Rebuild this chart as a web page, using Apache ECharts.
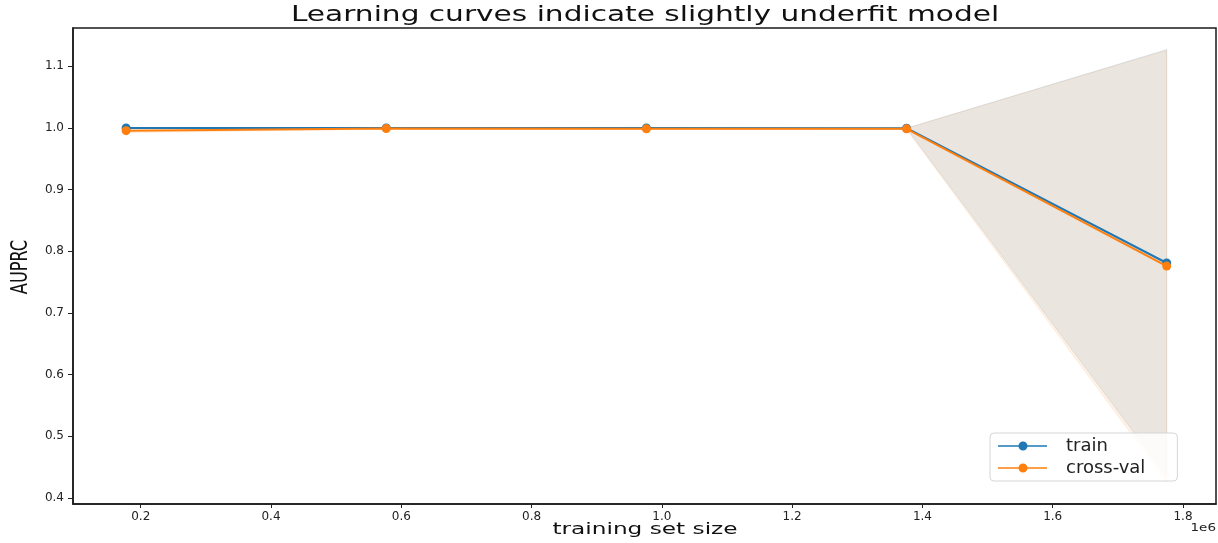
<!DOCTYPE html>
<html>
<head>
<meta charset="utf-8">
<title>Learning curves</title>
<script src="https://cdn.jsdelivr.net/npm/echarts@6/dist/echarts.min.js"></script>
<style>
  html, body { margin: 0; padding: 0; background: #fff; }
  #chart { width: 1218px; height: 543px; }
</style>
</head>
<body>
<div id="chart"></div>
<script>
// Training set sizes used by the learning curve (samples)
const trainSizes = [177500, 576875, 976250, 1375625, 1775000];

// Mean and standard deviation of AUPRC across folds
const trainMean = [1.000, 1.000, 1.000, 0.9995, 0.781];
const trainStd  = [0.000, 0.000, 0.000, 0.000, 0.346];
const valMean   = [0.9956, 0.9989, 0.9985, 0.9985, 0.776];
const valStd    = [0.003, 0.001, 0.001, 0.001, 0.350];

// Tick positions
const xTicks = [200000, 400000, 600000, 800000, 1000000, 1200000, 1400000, 1600000, 1800000];
const yTicks = [0.4, 0.5, 0.6, 0.7, 0.8, 0.9, 1.0, 1.1];

const BLUE = '#1f77b4';
const ORANGE = '#ff7f0e';

const pts = (ys) => trainSizes.map((x, i) => [x, ys[i]]);

// Shaded ±1 std band drawn as one polygon through the axis scales
function band(name, mean, std, color) {
  return {
    name: name + ' ±1 std', type: 'custom', silent: true, z: 1,
    data: [[trainSizes[0], mean[0]]],
    renderItem: (params, api) => {
      const upper = trainSizes.map((x, i) => api.coord([x, mean[i] + std[i]]));
      const lowerPts = trainSizes.map((x, i) => api.coord([x, mean[i] - std[i]])).reverse();
      return {
        type: 'polygon',
        shape: { points: upper.concat(lowerPts) },
        style: {
          fill: color, opacity: 1,
          fillOpacity: 0.1,
          stroke: color, strokeOpacity: 0.12, lineWidth: 1
        }
      };
    }
  };
}

const chart = echarts.init(document.getElementById('chart'), null, { renderer: 'canvas' });

const axisTextColor = '#222';

chart.setOption({
  backgroundColor: '#fff',
  animation: false,
  grid: {
    left: 73, right: 2, top: 28, bottom: 39,
    show: true, borderColor: '#1a1a1a', borderWidth: 1.5
  },
  xAxis: {
    type: 'value', min: 96000, max: 1850700,
    splitLine: { show: false },
    axisLine: { lineStyle: { color: '#1a1a1a', width: 1.5 } },
    axisTick: { show: true, length: 4, customValues: xTicks, lineStyle: { color: '#222' } },
    axisLabel: {
      customValues: xTicks, margin: 7,
      formatter: v => (v / 1e6).toFixed(1),
      fontFamily: 'DejaVu Sans', fontSize: 12, color: axisTextColor
    }
  },
  yAxis: {
    type: 'value', min: 0.3903, max: 1.162,
    splitLine: { show: false },
    axisLine: { show: true, lineStyle: { color: '#1a1a1a', width: 1.5 } },
    axisTick: { show: true, length: 5, customValues: yTicks, lineStyle: { color: '#222' } },
    axisLabel: {
      customValues: yTicks, margin: 9,
      formatter: v => v.toFixed(1),
      fontFamily: 'DejaVu Sans', fontSize: 12, color: axisTextColor
    }
  },
  legend: {
    data: ['train', 'cross-val'],
    orient: 'vertical',
    left: 990, top: 433,
    padding: [4, 32, 4, 8],
    itemGap: 4,
    itemWidth: 49, itemHeight: 10,
    backgroundColor: 'rgba(255,255,255,0.85)',
    borderColor: '#d6d6d6', borderWidth: 1, borderRadius: 4,
    icon: 'path://M0,4.25h49v1.5h-49z M29.5,5a4.5,4.5 0 1,1 -9,0a4.5,4.5 0 1,1 9,0z',
    textStyle: {
      fontFamily: 'DejaVu Sans', fontSize: 18, color: '#222',
      padding: [0, 0, 0, 14]
    }
  },
  graphic: [
    {
      type: 'text', x: 645, y: 15.5, scaleX: 1.41,
      style: {
        text: 'Learning curves indicate slightly underfit model',
        font: '21px "DejaVu Sans"', fill: '#111',
        textAlign: 'center', textVerticalAlign: 'middle'
      }
    },
    {
      type: 'text', x: 645, y: 529.5, scaleX: 1.45,
      style: {
        text: 'training set size',
        font: '16px "DejaVu Sans"', fill: '#111',
        textAlign: 'center', textVerticalAlign: 'middle'
      }
    },
    {
      type: 'text', x: 21, y: 267, rotation: Math.PI / 2, scaleY: 1.3,
      style: {
        text: 'AUPRC',
        font: '18px "Liberation Sans Narrow", "DejaVu Sans Condensed", sans-serif', fill: '#111',
        textAlign: 'center', textVerticalAlign: 'middle'
      }
    },
    {
      type: 'text', x: 1216, y: 528, scaleX: 1.35,
      style: {
        text: '1e6',
        font: '10px "DejaVu Sans"', fill: '#222',
        textAlign: 'right', textVerticalAlign: 'middle'
      }
    }
  ],
  series: [
    band('train', trainMean, trainStd, BLUE),
    band('cross-val', valMean, valStd, ORANGE),
    {
      name: 'train', type: 'line', data: pts(trainMean),
      color: BLUE, symbol: 'circle', symbolSize: 9,
      lineStyle: { width: 2, color: BLUE }, itemStyle: { color: BLUE }, z: 3
    },
    {
      name: 'cross-val', type: 'line', data: pts(valMean),
      color: ORANGE, symbol: 'circle', symbolSize: 9,
      lineStyle: { width: 2, color: ORANGE }, itemStyle: { color: ORANGE }, z: 4
    }
  ]
});
</script>
</body>
</html>
